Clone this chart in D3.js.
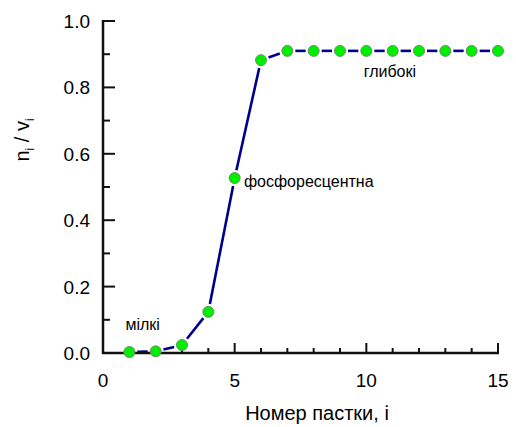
<!DOCTYPE html>
<html>
<head>
  <meta charset="UTF-8">
  <script src="https://cdnjs.cloudflare.com/ajax/libs/d3/7.8.5/d3.min.js"></script>
</head>
<body style="margin:0">
  <svg id="chart" width="516" height="427" font-family="'Liberation Sans', Arial, sans-serif"></svg>
  <script>
    // data
    var trapIndex = [1, 2, 3, 4, 5, 6, 7, 8, 9, 10, 11, 12, 13, 14, 15]
    var ratio = [0.003, 0.005, 0.024, 0.124, 0.527, 0.882, 0.91, 0.91, 0.91, 0.91, 0.91, 0.91, 0.91, 0.91, 0.91]
    var xMajor = [0, 5, 10, 15]
    var yMajor = [0, 0.2, 0.4, 0.6, 0.8, 1.0]
    var notes = [
      { label: 'мілкі', x: 0.85, y: 0.07 },
      { label: 'фосфоресцентна', x: 5.35, y: 0.5 },
      { label: 'глибокі', x: 9.9, y: 0.83 }
    ]

    var svg = d3.select('#chart')
    var x = d3.scaleLinear().domain([0, 15]).range([103, 498])
    var y = d3.scaleLinear().domain([0, 1]).range([353, 21])
    var navy = '#00008b'
    var ink = '#111111'

    // line segments with a gap around each marker
    var pts = trapIndex.map((d, i) => [x(d), y(ratio[i])])
    var gap = 8
    var segs = d3.pairs(pts).map(function (p) {
      var dx = p[1][0] - p[0][0], dy = p[1][1] - p[0][1]
      var len = Math.sqrt(dx * dx + dy * dy)
      var ux = dx / len, uy = dy / len
      return [p[0][0] + ux * gap, p[0][1] + uy * gap, p[1][0] - ux * gap, p[1][1] - uy * gap]
    })
    svg.append('g').selectAll('line').data(segs).enter().append('line')
      .attr('x1', d => d[0]).attr('y1', d => d[1])
      .attr('x2', d => d[2]).attr('y2', d => d[3])
      .attr('stroke', navy).attr('stroke-width', 2.6)

    // axes, ticks pointing inward; drawn after the curve
    var axisLines = []
    axisLines.push([x(0), y(1) - 1, x(0), y(0) + 1, 2.5])
    axisLines.push([x(0) - 1, y(0), x(15) + 1, y(0), 2.5])
    x.ticks(15).filter(d => d > 0).forEach(function (d) {
      axisLines.push([x(d), y(0), x(d), y(0) - (d % 5 ? 5 : 10), 2])
    })
    y.ticks(10).forEach(function (d) {
      axisLines.push([x(0), y(d), x(0) + (Math.round(d * 10) % 2 ? 7 : 12), y(d), 2])
    })
    svg.append('g').attr('class', 'axes').selectAll('line').data(axisLines).enter().append('line')
      .attr('x1', d => d[0]).attr('y1', d => d[1])
      .attr('x2', d => d[2]).attr('y2', d => d[3])
      .attr('stroke', ink).attr('stroke-width', d => d[4])

    svg.append('g').selectAll('circle').data(trapIndex).enter().append('circle')
      .attr('cx', d => x(d)).attr('cy', (d, i) => y(ratio[i]))
      .attr('r', 5.5)
      .attr('fill', '#00ee00').attr('stroke', '#6b8f6b').attr('stroke-width', 1)

    svg.append('g').selectAll('text').data(xMajor).enter().append('text')
      .attr('x', d => x(d)).attr('y', y(0) + 34)
      .attr('text-anchor', 'middle').attr('font-size', 19)
      .text(d => d)
    svg.append('g').selectAll('text').data(yMajor).enter().append('text')
      .attr('x', x(0) - 13).attr('y', d => y(d) + 7)
      .attr('text-anchor', 'end').attr('font-size', 19)
      .text(d => d.toFixed(1))

    // axis titles
    svg.append('text').attr('x', 317).attr('y', 420)
      .attr('text-anchor', 'middle').attr('font-size', 20)
      .text('Номер пастки, і')

    var yt = svg.append('text').attr('transform', 'translate(29,140) rotate(-90)')
      .attr('text-anchor', 'middle').attr('font-size', 20)
    yt.append('tspan').text('n')
    yt.append('tspan').attr('font-size', 12).attr('dy', 5).text('i')
    yt.append('tspan').attr('dy', -5).text(' / v')
    yt.append('tspan').attr('font-size', 12).attr('dy', 5).text('i')

    // annotations
    svg.append('g').selectAll('text').data(notes).enter().append('text')
      .attr('x', d => x(d.x)).attr('y', d => y(d.y))
      .attr('font-size', 16)
      .text(d => d.label)
  </script>
</body>
</html>
